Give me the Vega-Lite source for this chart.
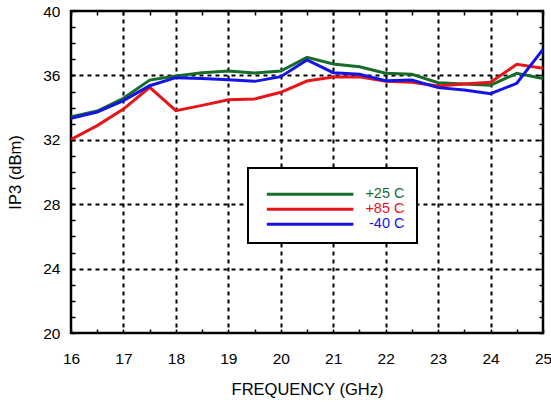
{
  "$schema": "https://vega.github.io/schema/vega-lite/v6.json",
  "width": 472,
  "height": 322,
  "autosize": {"type": "none"},
  "padding": {"left": 71, "top": 11, "right": 8, "bottom": 69},
  "background": "white",
  "config": {
    "view": {"stroke": "black", "strokeWidth": 2.5},
    "font": "Liberation Sans"
  },
  "data": {
    "values": [
      {"f": 16, "ip3": 33.43, "temp": "+25 C"},
      {"f": 16.5, "ip3": 33.79, "temp": "+25 C"},
      {"f": 17, "ip3": 34.58, "temp": "+25 C"},
      {"f": 17.5, "ip3": 35.71, "temp": "+25 C"},
      {"f": 18, "ip3": 35.96, "temp": "+25 C"},
      {"f": 18.5, "ip3": 36.17, "temp": "+25 C"},
      {"f": 19, "ip3": 36.27, "temp": "+25 C"},
      {"f": 19.5, "ip3": 36.15, "temp": "+25 C"},
      {"f": 20, "ip3": 36.27, "temp": "+25 C"},
      {"f": 20.5, "ip3": 37.12, "temp": "+25 C"},
      {"f": 21, "ip3": 36.71, "temp": "+25 C"},
      {"f": 21.5, "ip3": 36.54, "temp": "+25 C"},
      {"f": 22, "ip3": 36.13, "temp": "+25 C"},
      {"f": 22.5, "ip3": 36.07, "temp": "+25 C"},
      {"f": 23, "ip3": 35.55, "temp": "+25 C"},
      {"f": 23.5, "ip3": 35.47, "temp": "+25 C"},
      {"f": 24, "ip3": 35.39, "temp": "+25 C"},
      {"f": 24.5, "ip3": 36.13, "temp": "+25 C"},
      {"f": 25, "ip3": 35.8, "temp": "+25 C"},
      {"f": 16, "ip3": 32.03, "temp": "+85 C"},
      {"f": 16.5, "ip3": 32.88, "temp": "+85 C"},
      {"f": 17, "ip3": 33.91, "temp": "+85 C"},
      {"f": 17.5, "ip3": 35.26, "temp": "+85 C"},
      {"f": 18, "ip3": 33.81, "temp": "+85 C"},
      {"f": 18.5, "ip3": 34.14, "temp": "+85 C"},
      {"f": 19, "ip3": 34.49, "temp": "+85 C"},
      {"f": 19.5, "ip3": 34.53, "temp": "+85 C"},
      {"f": 20, "ip3": 34.95, "temp": "+85 C"},
      {"f": 20.5, "ip3": 35.65, "temp": "+85 C"},
      {"f": 21, "ip3": 35.9, "temp": "+85 C"},
      {"f": 21.5, "ip3": 35.92, "temp": "+85 C"},
      {"f": 22, "ip3": 35.63, "temp": "+85 C"},
      {"f": 22.5, "ip3": 35.57, "temp": "+85 C"},
      {"f": 23, "ip3": 35.34, "temp": "+85 C"},
      {"f": 23.5, "ip3": 35.47, "temp": "+85 C"},
      {"f": 24, "ip3": 35.57, "temp": "+85 C"},
      {"f": 24.5, "ip3": 36.69, "temp": "+85 C"},
      {"f": 25, "ip3": 36.44, "temp": "+85 C"},
      {"f": 16, "ip3": 33.34, "temp": "-40 C"},
      {"f": 16.5, "ip3": 33.73, "temp": "-40 C"},
      {"f": 17, "ip3": 34.43, "temp": "-40 C"},
      {"f": 17.5, "ip3": 35.36, "temp": "-40 C"},
      {"f": 18, "ip3": 35.86, "temp": "-40 C"},
      {"f": 18.5, "ip3": 35.8, "temp": "-40 C"},
      {"f": 19, "ip3": 35.73, "temp": "-40 C"},
      {"f": 19.5, "ip3": 35.63, "temp": "-40 C"},
      {"f": 20, "ip3": 35.92, "temp": "-40 C"},
      {"f": 20.5, "ip3": 36.96, "temp": "-40 C"},
      {"f": 21, "ip3": 36.17, "temp": "-40 C"},
      {"f": 21.5, "ip3": 36.07, "temp": "-40 C"},
      {"f": 22, "ip3": 35.67, "temp": "-40 C"},
      {"f": 22.5, "ip3": 35.71, "temp": "-40 C"},
      {"f": 23, "ip3": 35.24, "temp": "-40 C"},
      {"f": 23.5, "ip3": 35.09, "temp": "-40 C"},
      {"f": 24, "ip3": 34.86, "temp": "-40 C"},
      {"f": 24.5, "ip3": 35.51, "temp": "-40 C"},
      {"f": 25, "ip3": 37.62, "temp": "-40 C"}
    ]
  },
  "layer": [
    {
      "mark": {"type": "line", "strokeWidth": 3, "clip": true},
      "encoding": {
        "x": {
          "field": "f", "type": "quantitative",
          "scale": {"domain": [16, 25], "nice": false, "zero": false},
          "axis": {
            "orient": "bottom",
            "title": "FREQUENCY (GHz)",
            "titleFontSize": 16.5, "titleFontWeight": "normal", "titleColor": "black",
            "titlePadding": 15,
            "values": [16, 16.5, 17, 17.5, 18, 18.5, 19, 19.5, 20, 20.5, 21, 21.5, 22, 22.5, 23, 23.5, 24, 24.5, 25],
            "labelExpr": "datum.value % 1 === 0 ? format(datum.value, 'd') : ''",
            "labelFontSize": 15.5, "labelColor": "black", "labelPadding": 22,
            "labelFlush": false, "labelOverlap": false,
            "domain": false,
            "tickSize": -4, "tickColor": "black", "tickWidth": 1.5,
            "grid": true, "gridColor": "black", "gridWidth": 2, "gridDash": [4, 4],
            "gridOpacity": {"condition": {"test": "datum.value % 1 === 0 && datum.value > 16 && datum.value < 25", "value": 1}, "value": 0}
          }
        },
        "y": {
          "field": "ip3", "type": "quantitative",
          "scale": {"domain": [20, 40], "nice": false, "zero": false},
          "axis": {
            "orient": "left",
            "title": "IP3 (dBm)",
            "titleFontSize": 16.5, "titleFontWeight": "normal", "titleColor": "black",
            "titlePadding": 19,
            "values": [20, 21, 22, 23, 24, 25, 26, 27, 28, 29, 30, 31, 32, 33, 34, 35, 36, 37, 38, 39, 40],
            "labelExpr": "datum.value % 4 === 0 ? format(datum.value, 'd') : ''",
            "labelFontSize": 15.5, "labelColor": "black", "labelPadding": 15,
            "labelFlush": false, "labelOverlap": false,
            "domain": false,
            "tickSize": -4, "tickColor": "black", "tickWidth": 1.5,
            "grid": true, "gridColor": "black", "gridWidth": 2, "gridDash": [4, 4],
            "gridOpacity": {"condition": {"test": "datum.value % 4 === 0 && datum.value > 20 && datum.value < 40", "value": 1}, "value": 0}
          }
        },
        "color": {
          "field": "temp", "type": "nominal",
          "sort": ["+25 C", "+85 C", "-40 C"],
          "scale": {"domain": ["+25 C", "+85 C", "-40 C"], "range": ["#176c2a", "#e6151a", "#1414e6"]},
          "legend": {
            "orient": "none", "legendX": 177, "legendY": 157,
            "title": " ", "titleFontSize": 1, "titlePadding": 6,
            "symbolType": "M-1,0H15", "symbolSize": 117, "symbolStrokeWidth": 3,
            "labelAlign": "right", "labelOffset": 125, "labelFontSize": 14.5,
            "rowPadding": 0, "padding": 12, "symbolOffset": 5,
            "strokeColor": "black", "fillColor": "white",
            "encode": {
              "legend": {"update": {"strokeWidth": {"value": 2}}},
              "labels": {"update": {"fill": {"scale": "color", "field": "value"}}}
            }
          }
        }
      }
    },
    {
      "mark": {"type": "point", "opacity": 0},
      "encoding": {
        "x": {
          "field": "f", "type": "quantitative",
          "axis": {
            "orient": "top", "title": null, "labels": false, "domain": false, "grid": false,
            "values": [16, 16.5, 17, 17.5, 18, 18.5, 19, 19.5, 20, 20.5, 21, 21.5, 22, 22.5, 23, 23.5, 24, 24.5, 25],
            "tickSize": -4, "tickColor": "black", "tickWidth": 1.5
          }
        },
        "y": {
          "field": "ip3", "type": "quantitative",
          "axis": {
            "orient": "right", "title": null, "labels": false, "domain": false, "grid": false,
            "values": [20, 21, 22, 23, 24, 25, 26, 27, 28, 29, 30, 31, 32, 33, 34, 35, 36, 37, 38, 39, 40],
            "tickSize": -4, "tickColor": "black", "tickWidth": 1.5
          }
        }
      }
    }
  ],
  "resolve": {"axis": {"x": "independent", "y": "independent"}}
}
